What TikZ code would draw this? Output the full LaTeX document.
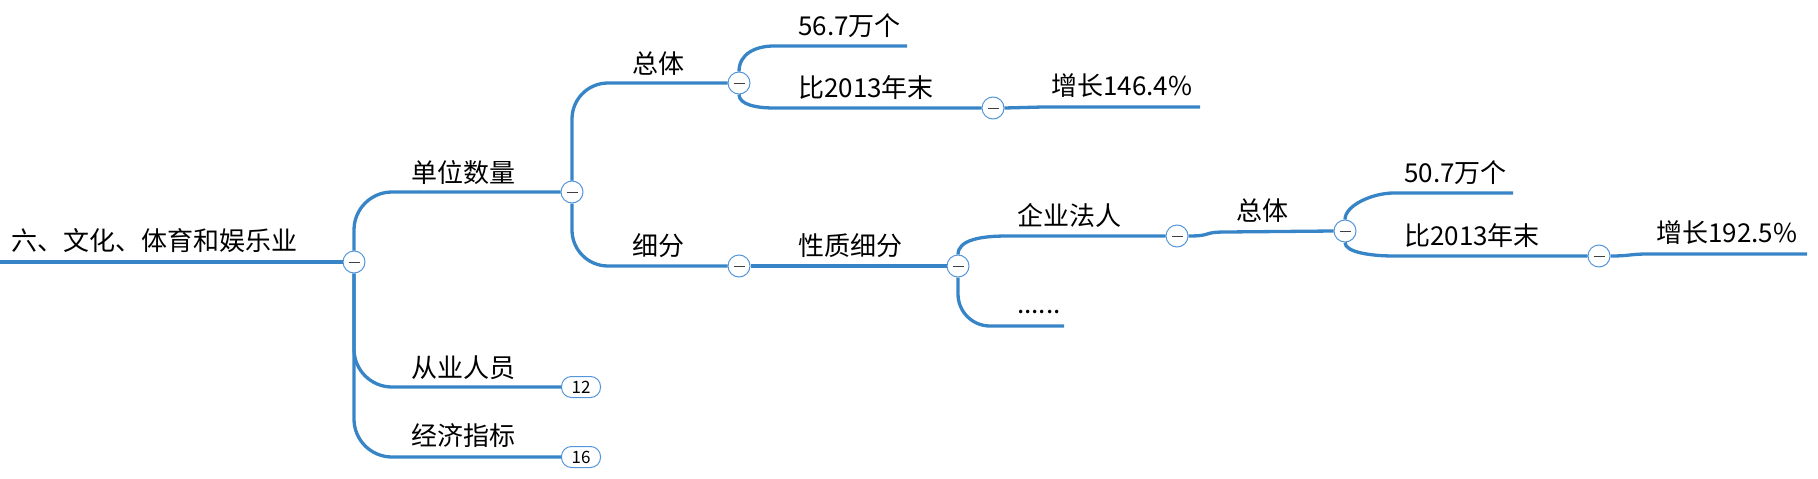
\documentclass[tikz,border=0pt]{standalone}
\usepackage{fontspec}
\newfontfamily\cjk{Noto Sans CJK SC}
\usetikzlibrary{positioning}
\definecolor{branchblue}{RGB}{55,133,198}
\definecolor{knobblue}{RGB}{84,150,218}

\begin{document}
\begin{tikzpicture}[x=1pt,y=-1pt]
  \tikzstyle{branch}=[draw=branchblue,line width=3.3pt]
  \tikzstyle{topic}=[anchor=base west,inner sep=0pt,font=\cjk\fontsize{26}{31}\selectfont]
  \tikzstyle{knob}=[circle,draw=knobblue,fill=white,line width=1pt,
                    minimum size=22pt,inner sep=0pt,
                    path picture={\draw[black!75,line width=1pt]
                      ([xshift=-5.5pt]path picture bounding box.center) --
                      ([xshift=5.5pt]path picture bounding box.center);}]
  \tikzstyle{badge}=[rectangle,rounded corners=10pt,draw=knobblue,fill=white,line width=1pt,
                     minimum width=39pt,minimum height=21pt,inner sep=0pt,font=\cjk\fontsize{17}{17}\selectfont]

  \useasboundingbox (0,0) rectangle (1818,479);

  % knobs and badges
  \node[knob] (root)  at (354,262)  {};
  \node[knob] (qty)   at (572,192)  {};
  \node[knob] (tot)   at (739,83)   {};
  \node[knob] (cmp)   at (993,108)  {};
  \node[knob] (sub)   at (739,266)  {};
  \node[knob] (kind)  at (958,266)  {};
  \node[knob] (corp)  at (1177,236) {};
  \node[knob] (ctot)  at (1345,231) {};
  \node[knob] (ccmp)  at (1599,256) {};
  \node[badge] (staff) at (581,387) {12};
  \node[badge] (econ)  at (581,457) {16};

  % line starts and free ends
  \coordinate (r0)   at (0,262);
  \coordinate (s56)  at (774,46);
  \coordinate (e56)  at (907,46);
  \coordinate (s13a) at (774,108);
  \coordinate (s146) at (1043,107);
  \coordinate (e146) at (1200,107);
  \coordinate (scorp) at (1007,236);
  \coordinate (edots) at (1064,326);
  \coordinate (sctot) at (1226,232);
  \coordinate (s507) at (1394,193);
  \coordinate (e507) at (1513,193);
  \coordinate (s13b) at (1394,256);
  \coordinate (s192) at (1649,254);
  \coordinate (e192) at (1807,254);

  % branches
  \draw[branch] (r0) -- (root);
  \draw[branch,rounded corners=38pt] (root.north) |- (qty.west);
  \draw[branch,rounded corners=38pt] (root.south) |- (staff.west);
  \draw[branch,rounded corners=38pt] (root.south) |- (econ.west);
  \draw[branch,rounded corners=36pt] (qty.north) |- (tot.west);
  \draw[branch,rounded corners=36pt] (qty.south) |- (sub.west);
  \draw[branch] (tot.north) .. controls +(0,-18) and +(-18,0) .. (s56) -- (e56);
  \draw[branch] (tot.south) .. controls +(0,10) and +(-18,0) .. (s13a) -- (cmp.west);
  \draw[branch] (cmp.east) .. controls +(20,0) and +(-20,0) .. (s146) -- (e146);
  \draw[branch] (sub) -- (kind);
  \draw[branch] (kind.north) .. controls +(0,-15) and +(-25,0) .. (scorp) -- (corp.west);
  \draw[branch,rounded corners=32pt] (kind.south) |- (edots);
  \draw[branch] (corp.east) .. controls +(25,0) and +(-25,0) .. (sctot) -- (ctot.west);
  \draw[branch] (ctot.north) .. controls +(0,-14) and +(-22,0) .. (s507) -- (e507);
  \draw[branch] (ctot.south) .. controls +(0,10) and +(-22,0) .. (s13b) -- (ccmp.west);
  \draw[branch] (ccmp.east) .. controls +(20,0) and +(-20,0) .. (s192) -- (e192);

  % topic texts
  \node[topic] (troot) at (11,250)   {六、文化、体育和娱乐业};
  \node[topic] (tqty)  at (411,182)  {单位数量};
  \node[topic] (ttot)  at (632,73)   {总体};
  \node[topic] (t56)   at (798,35)   {56.7万个};
  \node[topic] (tcmp)  at (798,97)   {比2013年末};
  \node[topic] (t146)  at (1051,95)  {增长146.4\%};
  \node[topic] (tsub)  at (632,255)  {细分};
  \node[topic] (tkind) at (798,255)  {性质细分};
  \node[topic] (tcorp) at (1017,225) {企业法人};
  \node[topic] (tdots) at (1017,313) {......};
  \node[topic] (tctot) at (1236,220) {总体};
  \node[topic] (t507)  at (1404,182) {50.7万个};
  \node[topic] (tccmp) at (1404,245) {比2013年末};
  \node[topic] (t192)  at (1656,242) {增长192.5\%};
  \node[topic] (tstaff) at (411,377) {从业人员};
  \node[topic] (tecon) at (411,445)  {经济指标};
\end{tikzpicture}
\end{document}
